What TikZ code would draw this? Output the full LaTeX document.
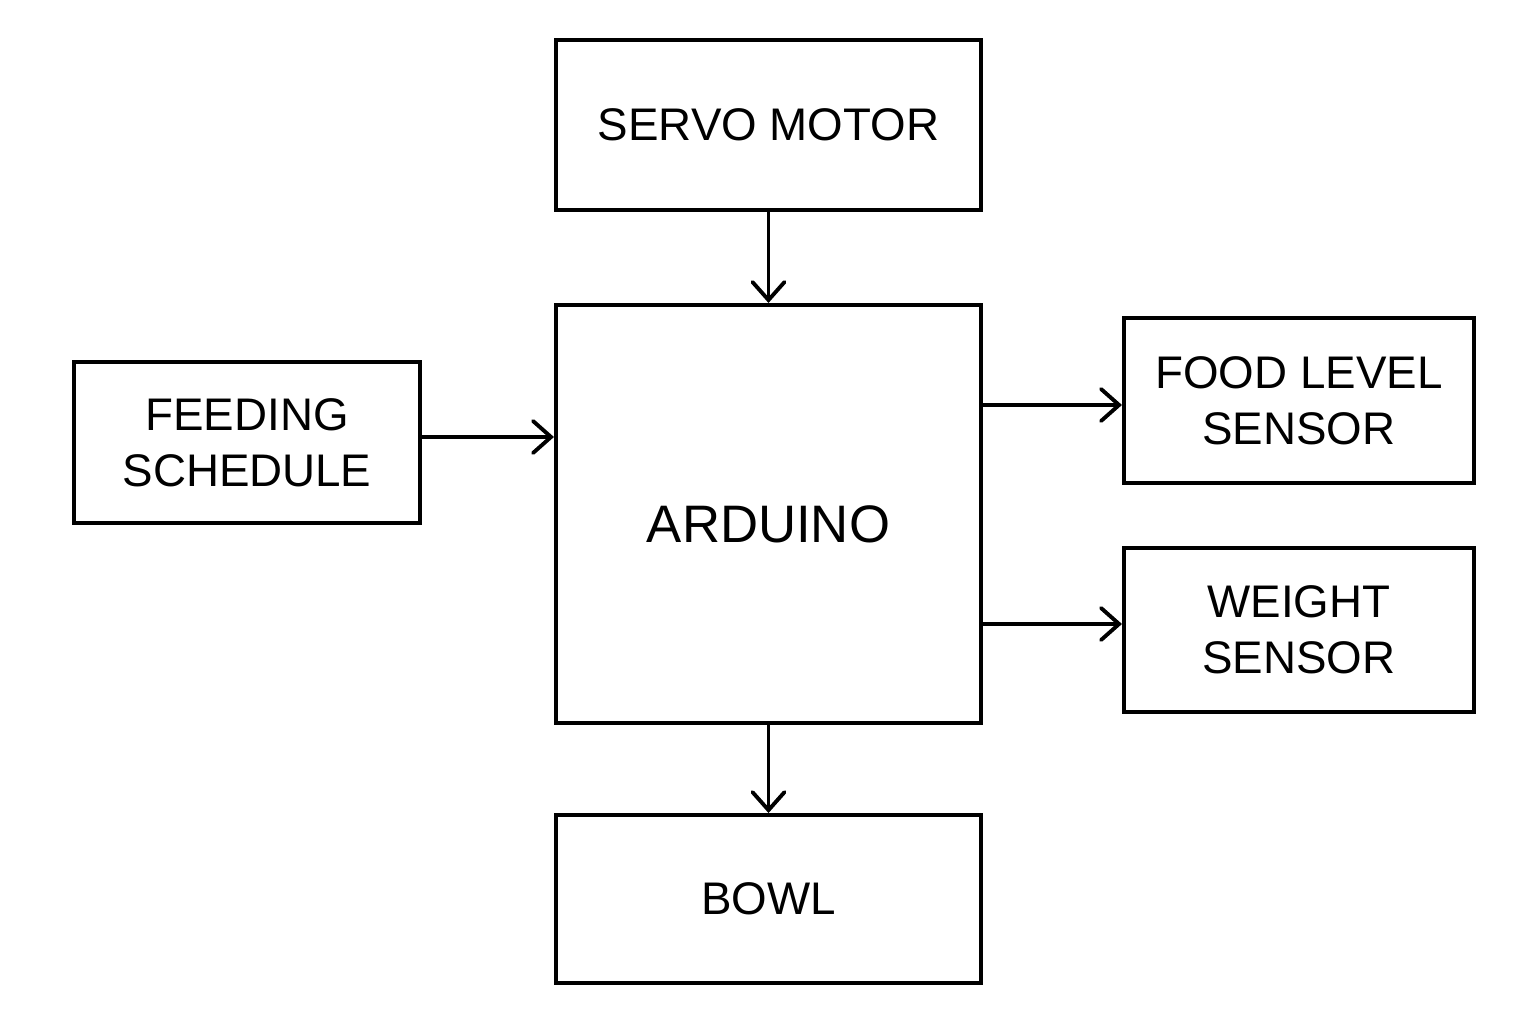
\documentclass[tikz,border=0pt]{standalone}
\usepackage{fontspec}
\setmainfont{Liberation Sans}
\usetikzlibrary{arrows.meta}
\begin{document}
\begin{tikzpicture}  % ------ Distributeur automatique de croquettes --------
      [x=0.01cm,y=-0.01cm,
       bloc/.style={draw,line width=1.1pt,inner sep=0pt,align=center,
                    font=\fontsize{13}{16}\selectfont},
       fleche/.style={line width=1.1pt,-{Straight Barb[length=1.8mm,width=3.2mm,line cap=round]}}]
    \useasboundingbox (0,0) rectangle (1536,1024);
    \node[bloc,minimum width=4.25cm,minimum height=1.70cm] (servo) at (768.5,125) {SERVO MOTOR};
    \node[bloc,minimum width=4.25cm,minimum height=4.18cm] (ard) at (768.5,514) {};
    \node[font=\fontsize{15}{18}\selectfont] (ardtxt) at (768.5,524) {ARDUINO};
    \node[bloc,minimum width=3.46cm,minimum height=1.61cm] (feed) at (247,442.5) {FEEDING\\SCHEDULE};
    \node[bloc,minimum width=3.50cm,minimum height=1.65cm] (food) at (1299,400.5) {FOOD LEVEL\\SENSOR};
    \node[bloc,minimum width=3.50cm,minimum height=1.64cm] (weight) at (1299,630) {WEIGHT\\SENSOR};
    \node[bloc,minimum width=4.25cm,minimum height=1.68cm] (bowl) at (768.5,899) {BOWL};
    \draw[fleche] (servo) -- (ard) ;
    \draw[fleche] (feed.east |- 0,437) -- (ard.west |- 0,437) ;
    \draw[fleche] (ard.east |- 0,405) -- (food.west |- 0,405) ;  % capteur niveau
    \draw[fleche] (ard.east |- 0,624) -- (weight.west |- 0,624) ;  % capteur poids
    \draw[fleche] (ard) -- (bowl) ;
\end{tikzpicture}
\end{document}
